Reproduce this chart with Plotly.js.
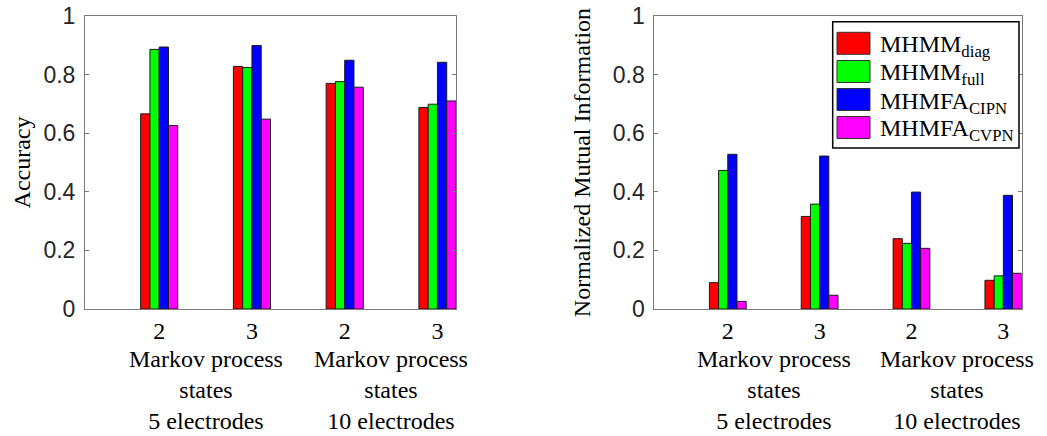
<!DOCTYPE html>
<html>
<head>
<meta charset="utf-8">
<script src="https://cdn.plot.ly/plotly-3.0.1.min.js"></script>
<style>html,body{margin:0;padding:0;background:#fff;}#chart{width:1047px;height:436px;}</style>
</head>
<body>
<div id="chart"></div>
<script>
// ---- data ----
const groupPos = [1, 2, 3, 4];
const stateLabels = ['2', '3', '2', '3'];
const groupLabels = ['Markov process<br>states<br>5 electrodes', 'Markov process<br>states<br>10 electrodes'];
const groupLabelPos = [1.5, 3.5];
const seriesNames = ['MHMM<sub>diag</sub>', 'MHMM<sub>full</sub>', 'MHMFA<sub>CIPN</sub>', 'MHMFA<sub>CVPN</sub>'];
const seriesColors = ['#ff0000', '#00ff00', '#0000ff', '#ff00ff'];

const accDiag = [0.666, 0.828, 0.770, 0.688];
const accFull = [0.886, 0.824, 0.776, 0.699];
const accCipn = [0.894, 0.899, 0.849, 0.842];
const accCvpn = [0.626, 0.648, 0.757, 0.710];

const nmiDiag = [0.090, 0.316, 0.240, 0.098];
const nmiFull = [0.473, 0.358, 0.224, 0.113];
const nmiCipn = [0.528, 0.522, 0.399, 0.388];
const nmiCvpn = [0.026, 0.047, 0.207, 0.122];

// ---- build ----
const accSeries = [accDiag, accFull, accCipn, accCvpn];
const nmiSeries = [nmiDiag, nmiFull, nmiCipn, nmiCvpn];
const traces = [];
function addBars(series, xa, ya) {
  series.forEach((vals, i) => {
    traces.push({
      type: 'bar', x: groupPos, y: vals, name: seriesNames[i], xaxis: xa, yaxis: ya,
      marker: {color: seriesColors[i], line: {color: '#1a1a1a', width: 1}},
      hoverinfo: 'y'
    });
  });
}
addBars(accSeries, 'x', 'y');
addBars(nmiSeries, 'x2', 'y2');

const serif = '"Liberation Serif"';
const sans = '"Liberation Sans"';
const axisGray = '#7a7a7a';
const W = 1047, H = 436;
const px = v => v / W, py = v => (H - v) / H;

function xAxis(domain) {
  return {
    domain: domain, range: [0.2, 4.2], tickmode: 'array', tickvals: groupPos, ticktext: stateLabels,
    ticks: '', showline: true, linecolor: axisGray, linewidth: 1, mirror: true,
    showgrid: false, zeroline: false, automargin: false, fixedrange: true,
    tickfont: {family: serif, size: 24, color: '#000'}, ticklabelstandoff: 0
  };
}
function xTopAxis(over, ya) {
  return {
    overlaying: over, anchor: ya, side: 'top', range: [0.2, 4.2], tickmode: 'array',
    tickvals: [1.2, 2.2, 3.2], ticks: 'inside', ticklen: 4, tickcolor: axisGray,
    showticklabels: false, showline: false, showgrid: false, zeroline: false, automargin: false
  };
}
function yAxis(domain, title, standoff) {
  return {
    domain: domain, range: [0, 1], tickmode: 'linear', tick0: 0, dtick: 0.2,
    ticks: 'inside', ticklen: 4, tickcolor: axisGray, showline: true, linecolor: axisGray,
    linewidth: 1, mirror: 'ticks', showgrid: false, zeroline: false, automargin: false,
    fixedrange: true, tickfont: {family: sans, size: 23, color: '#262626'}, ticklabelstandoff: 4,
    title: {text: title, font: {family: serif, size: 24, color: '#000'}, standoff: standoff}
  };
}

const yDom = [py(309), py(16)];
const layout = {
  width: W, height: H, margin: {l: 0, r: 0, t: 0, b: 0},
  paper_bgcolor: '#fff', plot_bgcolor: '#fff', showlegend: false,
  barmode: 'group', bargap: 0.6, bargroupgap: 0,
  xaxis: Object.assign(xAxis([px(85), px(456)]), {anchor: 'y'}),
  yaxis: Object.assign(yAxis(yDom, 'Accuracy', 6), {anchor: 'x'}),
  xaxis2: Object.assign(xAxis([px(654.3), px(1021.7)]), {anchor: 'y2'}),
  yaxis2: Object.assign(yAxis(yDom, 'Normalized Mutual Information', 15), {anchor: 'x2'}),
  xaxis3: xTopAxis('x', 'y'),
  xaxis4: xTopAxis('x2', 'y2'),
  annotations: [], shapes: []
};

// group labels under each subplot
['x', 'x2'].forEach(xa => {
  groupLabels.forEach((t, i) => {
    layout.annotations.push({
      xref: xa, yref: 'paper', x: groupLabelPos[i], y: py(390), xanchor: 'center', yanchor: 'middle',
      text: t, showarrow: false, align: 'center', font: {family: serif, size: 24, color: '#000'}
    });
  });
});

// legend (drawn in right panel)
const lg = {x0: 832.7, x1: 1019, y0: 21.7, y1: 148};
layout.shapes.push({type: 'rect', xref: 'paper', yref: 'paper', x0: px(lg.x0), x1: px(lg.x1),
  y0: py(lg.y1), y1: py(lg.y0), line: {color: '#000', width: 1.5}, fillcolor: '#fff', layer: 'above'});
const rowCenters = [43.3, 71.5, 99.5, 127.5];
seriesNames.forEach((n, i) => {
  const c = rowCenters[i];
  layout.shapes.push({type: 'rect', xref: 'paper', yref: 'paper', x0: px(837), x1: px(870),
    y0: py(c + 11), y1: py(c - 11), line: {color: '#333', width: 1}, fillcolor: seriesColors[i], layer: 'above'});
  layout.annotations.push({xref: 'paper', yref: 'paper', x: px(878), y: py(c + 3), xanchor: 'left', yanchor: 'middle',
    text: n, showarrow: false, font: {family: serif, size: 24, color: '#000'}});
});

Plotly.newPlot('chart', traces, layout, {displayModeBar: false, staticPlot: true});
</script>
</body>
</html>
